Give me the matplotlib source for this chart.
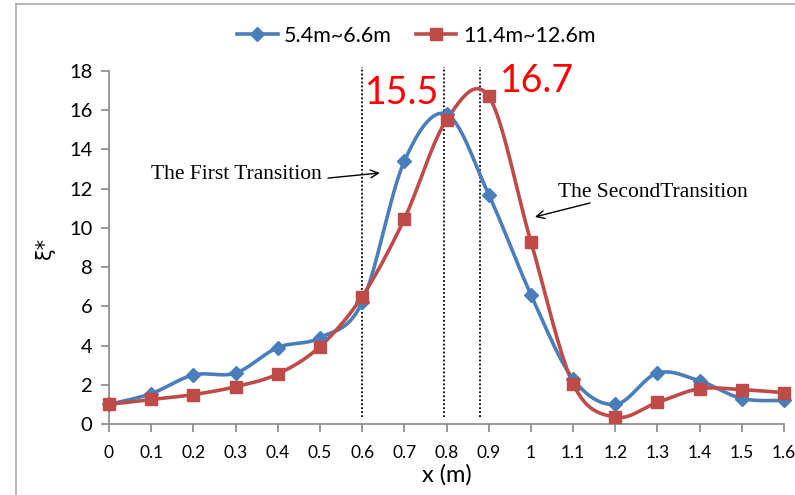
import numpy as np
import matplotlib
matplotlib.use("Agg")
import matplotlib.pyplot as plt
from matplotlib.lines import Line2D

x_vals = [0, 0.1, 0.2, 0.3, 0.4, 0.5, 0.6, 0.7, 0.8, 0.9, 1.0, 1.1, 1.2, 1.3, 1.4, 1.5, 1.6]
blue_vals = [1.0, 1.55, 2.5, 2.6, 3.9, 4.4, 6.2, 13.4, 15.8, 11.7, 6.6, 2.3, 1.0, 2.6, 2.2, 1.3, 1.2]
red_vals = [1.0, 1.25, 1.5, 1.9, 2.55, 3.95, 6.5, 10.45, 15.5, 16.7, 9.3, 2.05, 0.35, 1.1, 1.8, 1.75, 1.6]
x_tick_labels = ["0", "0.1", "0.2", "0.3", "0.4", "0.5", "0.6", "0.7", "0.8", "0.9", "1", "1.1", "1.2", "1.3", "1.4", "1.5", "1.6"]
y_ticks = [0, 2, 4, 6, 8, 10, 12, 14, 16, 18]
vlines_x = [0.6, 0.793, 0.879]
series_names = ["5.4m~6.6m", "11.4m~12.6m"]
peak_labels = ["15.5", "16.7"]

BLUE = "#4A7EBB"
RED = "#BE4B48"


def smooth(xs, ys, n=30):
    xs = np.asarray(xs, float)
    ys = np.asarray(ys, float)
    P = np.column_stack([xs, ys])
    m = len(P)
    out = []
    for i in range(m - 1):
        p0 = P[i - 1] if i > 0 else P[i]
        p1 = P[i]
        p2 = P[i + 1]
        p3 = P[i + 2] if i + 2 < m else P[i + 1]
        c1 = p1 + (p2 - p0) / 6.0
        c2 = p2 - (p3 - p1) / 6.0
        t = np.linspace(0, 1, n)[:, None]
        seg = ((1 - t) ** 3) * p1 + 3 * ((1 - t) ** 2) * t * c1 + 3 * (1 - t) * t ** 2 * c2 + t ** 3 * p2
        if i > 0:
            seg = seg[1:]
        out.append(seg)
    out = np.vstack(out)
    return out[:, 0], out[:, 1]


fig = plt.figure(figsize=(7.95, 4.95), dpi=100)
ax = fig.add_axes([109 / 795, 71 / 495, (784 - 109) / 795, (424 - 71) / 495])

tick_font = "Lato"

for xv in vlines_x:
    ax.plot([xv, xv], [0.35, 18.2], color="black", linestyle=(0, (1, 1.2)), lw=1.3, zorder=2, clip_on=False)

bx, by = smooth(x_vals, blue_vals)
rx, ry = smooth(x_vals, red_vals)
ax.plot(bx, by, color=BLUE, lw=2.6, zorder=3, solid_capstyle="round")
ax.plot(x_vals, blue_vals, linestyle="none", marker="D", ms=7, color=BLUE, zorder=4, clip_on=False)
ax.plot(rx, ry, color=RED, lw=2.6, zorder=3, solid_capstyle="round")
ax.plot(x_vals, red_vals, linestyle="none", marker="s", ms=9, color=RED, zorder=4, clip_on=False)

ax.set_xlim(0, 1.6)
ax.set_ylim(0, 18)
ax.set_xticks(x_vals)
ax.set_xticklabels(x_tick_labels, fontname=tick_font, fontsize=12.5)
ax.set_yticks(y_ticks)
ax.set_yticklabels([str(v) for v in y_ticks], fontname=tick_font, fontsize=14.5)
for s in ["top", "right"]:
    ax.spines[s].set_visible(False)
for s in ["left", "bottom"]:
    ax.spines[s].set_color("#888888")
    ax.spines[s].set_linewidth(1.2)
ax.tick_params(axis="both", direction="out", length=6, width=1.2, color="#888888", pad=6)
ax.tick_params(axis="x", pad=9)

ax.set_xlabel("x (m)", fontname=tick_font, fontsize=17, labelpad=2)
ax.set_ylabel("ξ*", fontsize=15, labelpad=10)

ax.text(0.694, 16.88, peak_labels[0], color="red", fontsize=27, fontname=tick_font, ha="center", va="center")
ax.text(1.014, 17.49, peak_labels[1], color="red", fontsize=27, fontname=tick_font, ha="center", va="center")

ax.text(0.303, 12.7, "The First Transition", fontname="Liberation Serif", fontsize=15.5, ha="center", va="center")
ax.annotate("", xy=(0.642, 12.8), xytext=(0.519, 12.54),
            arrowprops=dict(arrowstyle="->", color="black", lw=1.0, shrinkA=0, shrinkB=0, mutation_scale=14))
ax.annotate("", xy=(1.0097, 10.56), xytext=(1.14, 11.27),
            arrowprops=dict(arrowstyle="->", color="black", lw=1.0, shrinkA=0, shrinkB=0, mutation_scale=14))
ax.text(1.288, 11.78, "The SecondTransition", fontname="Liberation Serif", fontsize=15.5, ha="center", va="center")

handles = [Line2D([], [], color=BLUE, lw=2.6, marker="D", ms=7),
           Line2D([], [], color=RED, lw=2.6, marker="s", ms=9)]
fig.legend(handles, series_names, loc="center", bbox_to_anchor=(416 / 795, 1 - 36 / 495), ncol=2,
           frameon=False, prop={"family": tick_font, "size": 15.5}, handlelength=1.9, columnspacing=1.1,
           handletextpad=0.3)

fig.add_artist(Line2D([16 / 795, 16 / 795], [0, 1 - 4 / 495], color="#aaaaaa", lw=1.2, transform=fig.transFigure))
fig.add_artist(Line2D([16 / 795, 1], [1 - 4 / 495, 1 - 4 / 495], color="#aaaaaa", lw=1.2, transform=fig.transFigure))

fig.savefig("out.png", dpi=100)
